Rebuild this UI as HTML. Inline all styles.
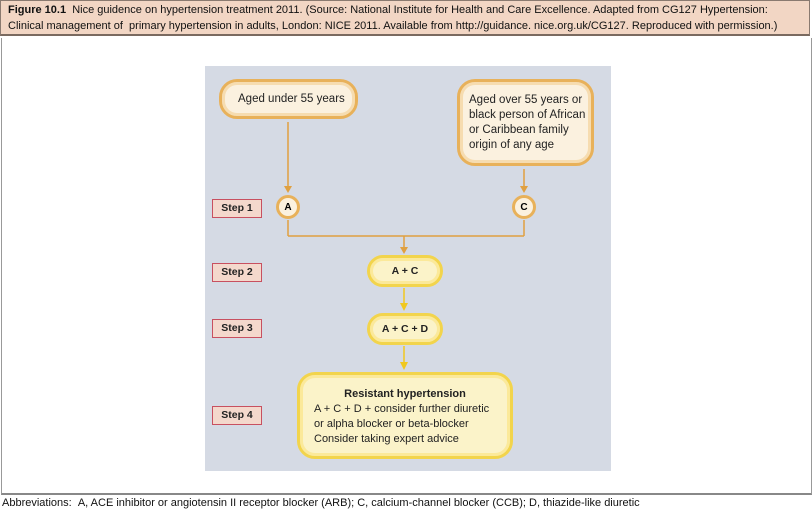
<!DOCTYPE html>
<html><head><meta charset="utf-8"><style>
body{margin:0;width:812px;height:512px;background:#fff;font-family:"Liberation Sans",sans-serif;position:relative;overflow:hidden}
.hdr{position:absolute;left:0;top:0;width:810px;height:36px;background:#f2d6c4;border:1px solid #8a7a70;border-bottom:2px solid #7a6a60;font-size:11px;line-height:16px;padding:1px 0 0 7px;box-sizing:border-box;color:#111;white-space:nowrap;overflow:hidden}
.frame{position:absolute;left:1px;top:38px;width:809px;height:455px;border:1px solid #999;border-top:none;border-bottom:2px solid #888}
.panel{position:absolute;left:205px;top:66px;width:406px;height:405px;background:#d5dae4}
.step{position:absolute;left:212px;width:48px;height:17px;border:1px solid #c85060;background:#f4d8cc;font-size:10.5px;line-height:17px;text-align:center;font-weight:bold;color:#222}
.box{position:absolute;box-sizing:border-box;border-radius:18px;font-size:11.5px;color:#222}
.org{background:#fbf1df;border:3px solid #e8b15a;box-shadow:inset 0 0 0 3px #f6dcb0}
.yel{background:#fbf3c9;border:3px solid #f2d44c;box-shadow:inset 0 0 0 3px #fbe99a}
.circ{position:absolute;width:24px;height:24px;border-radius:50%;box-sizing:border-box;background:#fbf1df;border:3px solid #e8b15a;font-size:10px;line-height:19px;text-align:center;font-weight:bold}
.abbr{position:absolute;left:2px;top:497px;font-size:11px;color:#111;white-space:nowrap}
</style></head><body>
<div class="hdr"><b>Figure 10.1</b>&nbsp; Nice guidence on hypertension treatment 2011. (Source: National Institute for Health and Care Excellence. Adapted from CG127 Hypertension:<br>Clinical management of &nbsp;primary hypertension in adults, London: NICE 2011. Available from http://guidance. nice.org.uk/CG127. Reproduced with permission.)</div>
<div class="frame"></div>
<div class="panel"></div>
<svg style="position:absolute;left:0;top:0" width="812" height="512">
<g stroke="#e0a040" stroke-width="1.5" fill="none">
<line x1="288" y1="122" x2="288" y2="188"/>
<line x1="524" y1="169" x2="524" y2="188"/>
<line x1="288" y1="220" x2="288" y2="236"/>
<line x1="524" y1="220" x2="524" y2="236"/>
<line x1="288" y1="236" x2="524" y2="236"/>
<line x1="404" y1="236" x2="404" y2="248"/>
</g>
<g fill="#e0a040">
<polygon points="284,186 292,186 288,193"/>
<polygon points="520,186 528,186 524,193"/>
<polygon points="400,247 408,247 404,254"/>
</g>
<g stroke="#f0c820" stroke-width="1.5"><line x1="404" y1="288" x2="404" y2="304"/><line x1="404" y1="346" x2="404" y2="363"/></g>
<g fill="#f0c820"><polygon points="400,303 408,303 404,311"/><polygon points="400,362 408,362 404,370"/></g>
</svg>
<div class="box org" style="left:219px;top:79px;width:139px;height:40px;padding:11px 0 0 16px">Aged under 55 years</div>
<div class="box org" style="left:457px;top:79px;width:137px;height:87px;padding:11px 0 0 9px;line-height:15px">Aged over 55 years or<br>black person of African<br>or Caribbean family<br>origin of any age</div>
<div class="circ" style="left:276px;top:195px">A</div>
<div class="circ" style="left:512px;top:195px">C</div>
<div class="step" style="top:199px">Step 1</div>
<div class="step" style="top:263px">Step 2</div>
<div class="step" style="top:319px">Step 3</div>
<div class="step" style="top:406px">Step 4</div>
<div class="box yel" style="left:367px;top:255px;width:76px;height:32px;text-align:center;line-height:27px;font-weight:bold;font-size:10.5px">A + C</div>
<div class="box yel" style="left:367px;top:313px;width:76px;height:32px;text-align:center;line-height:27px;font-weight:bold;font-size:10.5px">A + C + D</div>
<div class="box yel" style="left:297px;top:372px;width:216px;height:87px;padding:12px 0 0 14px;line-height:15px;font-size:11px;white-space:nowrap"><div style="text-align:center;font-weight:bold;padding-right:14px">Resistant hypertension</div>A + C + D + consider further diuretic<br>or alpha blocker or beta-blocker<br>Consider taking expert advice</div>
<div class="abbr">Abbreviations: &nbsp;A, ACE inhibitor or angiotensin II receptor blocker (ARB); C, calcium-channel blocker (CCB); D, thiazide-like diuretic</div>
</body></html>
